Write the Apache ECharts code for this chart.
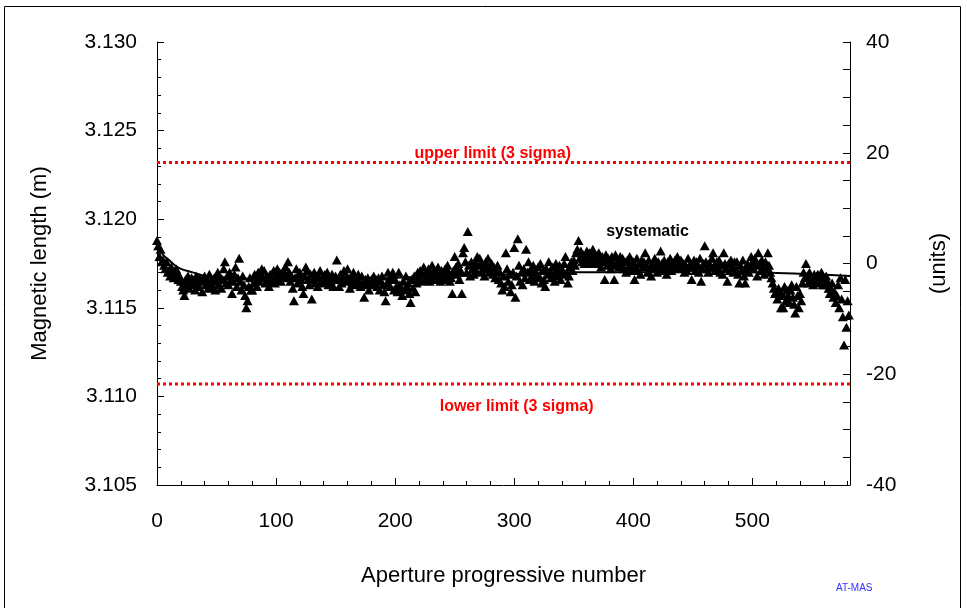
<!DOCTYPE html>
<html>
<head>
<meta charset="utf-8">
<script src="https://cdn.jsdelivr.net/npm/echarts@6/dist/echarts.min.js"></script>
<style>
  html, body { margin: 0; padding: 0; background: #fff; }
  #main { width: 967px; height: 608px; }
</style>
</head>
<body>
<div id="main"></div>
<script>
// magnetic length (m) per aperture, index = aperture progressive number
var magneticLength = [
  3.1188, 3.1185, 3.1179, 3.1183, 3.1176, 3.1177, 3.1174, 3.1172, 3.1176, 3.1170,
  3.1171, 3.1168, 3.1173, 3.1170, 3.1167, 3.1169, 3.1172, 3.1170, 3.1166, 3.1168,
  3.1165, 3.1162, 3.1160, 3.1157, 3.1166, 3.1163, 3.1168, 3.1161, 3.1164, 3.1167,
  3.1163, 3.1166, 3.1160, 3.1168, 3.1164, 3.1162, 3.1167, 3.1165, 3.1159, 3.1166,
  3.1168, 3.1163, 3.1166, 3.1161, 3.1169, 3.1164, 3.1166, 3.1162, 3.1167, 3.1160,
  3.1165, 3.1170, 3.1163, 3.1167, 3.1161, 3.1166, 3.1172, 3.1176, 3.1164, 3.1168,
  3.1163, 3.1170, 3.1166, 3.1158, 3.1165, 3.1169, 3.1173, 3.1162, 3.1167, 3.1178,
  3.1165, 3.1160, 3.1168, 3.1163, 3.1157, 3.1150, 3.1154, 3.1162, 3.1167, 3.1160,
  3.1160, 3.1164, 3.1169, 3.1166, 3.1162, 3.1170, 3.1165, 3.1168, 3.1172, 3.1167,
  3.1171, 3.1164, 3.1168, 3.1166, 3.1162, 3.1169, 3.1165, 3.1167, 3.1171, 3.1164,
  3.1168, 3.1172, 3.1166, 3.1170, 3.1165, 3.1169, 3.1171, 3.1167, 3.1173, 3.1168,
  3.1176, 3.1170, 3.1165, 3.1168, 3.1161, 3.1154, 3.1167, 3.1172, 3.1164, 3.1169,
  3.1170, 3.1166, 3.1162, 3.1158, 3.1168, 3.1173, 3.1171, 3.1166, 3.1163, 3.1169,
  3.1155, 3.1166, 3.1170, 3.1164, 3.1168, 3.1162, 3.1167, 3.1171, 3.1165, 3.1168,
  3.1164, 3.1169, 3.1166, 3.1170, 3.1163, 3.1167, 3.1165, 3.1169, 3.1162, 3.1166,
  3.1168, 3.1177, 3.1166, 3.1162, 3.1169, 3.1164, 3.1167, 3.1171, 3.1165, 3.1168,
  3.1172, 3.1166, 3.1161, 3.1168, 3.1164, 3.1170, 3.1167, 3.1163, 3.1166, 3.1169,
  3.1165, 3.1162, 3.1168, 3.1164, 3.1156, 3.1166, 3.1163, 3.1167, 3.1160, 3.1165,
  3.1166, 3.1163, 3.1168, 3.1164, 3.1166, 3.1162, 3.1167, 3.1160, 3.1165, 3.1168,
  3.1163, 3.1159, 3.1154, 3.1164, 3.1170, 3.1166, 3.1162, 3.1168, 3.1170, 3.1160,
  3.1166, 3.1162, 3.1159, 3.1170, 3.1163, 3.1161, 3.1157, 3.1165, 3.1160, 3.1168,
  3.1162, 3.1164, 3.1158, 3.1153, 3.1166, 3.1161, 3.1168, 3.1159, 3.1164, 3.1170,
  3.1167, 3.1171, 3.1165, 3.1169, 3.1173, 3.1166, 3.1170, 3.1168, 3.1172, 3.1165,
  3.1169, 3.1174, 3.1167, 3.1171, 3.1166, 3.1170, 3.1173, 3.1168, 3.1165, 3.1171,
  3.1169, 3.1166, 3.1172, 3.1168, 3.1174, 3.1170, 3.1165, 3.1167, 3.1158, 3.1171,
  3.1179, 3.1173, 3.1169, 3.1175, 3.1166, 3.1171, 3.1158, 3.1181, 3.1184, 3.1176,
  3.1170, 3.1193, 3.1174, 3.1168, 3.1176, 3.1172, 3.1169, 3.1175, 3.1171, 3.1179,
  3.1174, 3.1178, 3.1170, 3.1175, 3.1172, 3.1168, 3.1176, 3.1173, 3.1178, 3.1170,
  3.1172, 3.1175, 3.1169, 3.1173, 3.1167, 3.1171, 3.1174, 3.1166, 3.1170, 3.1164,
  3.1160, 3.1168, 3.1162, 3.1181, 3.1172, 3.1165, 3.1169, 3.1159, 3.1163, 3.1170,
  3.1184, 3.1156, 3.1168, 3.1189, 3.1174, 3.1165, 3.1170, 3.1163, 3.1172, 3.1167,
  3.1183, 3.1170, 3.1176, 3.1166, 3.1172, 3.1168, 3.1174, 3.1165, 3.1170, 3.1167,
  3.1173, 3.1168, 3.1175, 3.1164, 3.1171, 3.1166, 3.1162, 3.1172, 3.1169, 3.1176,
  3.1170, 3.1167, 3.1173, 3.1169, 3.1165, 3.1175, 3.1171, 3.1168, 3.1174, 3.1166,
  3.1172, 3.1169, 3.1175, 3.1179, 3.1170, 3.1164, 3.1168, 3.1173, 3.1176, 3.1171,
  3.1177, 3.1174, 3.1181, 3.1183, 3.1188, 3.1178, 3.1182, 3.1176, 3.1180, 3.1175,
  3.1179, 3.1182, 3.1177, 3.1181, 3.1175, 3.1179, 3.1183, 3.1176, 3.1180, 3.1178,
  3.1175, 3.1181, 3.1177, 3.1173, 3.1179, 3.1176, 3.1166, 3.1180, 3.1174, 3.1178,
  3.1176, 3.1172, 3.1179, 3.1175, 3.1166, 3.1180, 3.1174, 3.1177, 3.1173, 3.1179,
  3.1175, 3.1178, 3.1172, 3.1176, 3.1170, 3.1177, 3.1173, 3.1179, 3.1174, 3.1171,
  3.1176, 3.1166, 3.1173, 3.1178, 3.1171, 3.1175, 3.1169, 3.1177, 3.1173, 3.1176,
  3.1181, 3.1174, 3.1170, 3.1177, 3.1173, 3.1168, 3.1175, 3.1172, 3.1178, 3.1174,
  3.1170, 3.1176, 3.1173, 3.1182, 3.1175, 3.1171, 3.1177, 3.1174, 3.1169, 3.1176,
  3.1173, 3.1178, 3.1171, 3.1175, 3.1172, 3.1177, 3.1174, 3.1179, 3.1173, 3.1176,
  3.1177, 3.1172, 3.1175, 3.1170, 3.1174, 3.1171, 3.1178, 3.1173, 3.1175, 3.1166,
  3.1173, 3.1177, 3.1171, 3.1176, 3.1174, 3.1170, 3.1178, 3.1165, 3.1172, 3.1175,
  3.1185, 3.1176, 3.1172, 3.1170, 3.1175, 3.1173, 3.1178, 3.1181, 3.1174, 3.1171,
  3.1176, 3.1172, 3.1177, 3.1170, 3.1174, 3.1169, 3.1181, 3.1175, 3.1172, 3.1165,
  3.1175, 3.1171, 3.1177, 3.1173, 3.1170, 3.1176, 3.1172, 3.1176, 3.1169, 3.1164,
  3.1174, 3.1171, 3.1177, 3.1168, 3.1164, 3.1172, 3.1175, 3.1170, 3.1173, 3.1179,
  3.1176, 3.1172, 3.1178, 3.1174, 3.1168, 3.1181, 3.1175, 3.1171, 3.1177, 3.1173,
  3.1169, 3.1176, 3.1172, 3.1181, 3.1174, 3.1170, 3.1167, 3.1164, 3.1161, 3.1158,
  3.1159, 3.1155, 3.1161, 3.1157, 3.1150, 3.1158, 3.1150, 3.1162, 3.1154, 3.1160,
  3.1157, 3.1153, 3.1160, 3.1163, 3.1156, 3.1152, 3.1147, 3.1162, 3.1157, 3.1150,
  3.1158, 3.1154, 3.1164, 3.1170, 3.1167, 3.1175, 3.1168, 3.1164, 3.1170, 3.1166,
  3.1167, 3.1163, 3.1169, 3.1165, 3.1168, 3.1169, 3.1164, 3.1167, 3.1170, 3.1163,
  3.1167, 3.1163, 3.1168, 3.1165, 3.1161, 3.1158, 3.1161, 3.1164, 3.1156, 3.1159,
  3.1153, 3.1157, 3.1163, 3.1150, 3.1167, 3.1155, 3.1145, 3.1129, 3.1166, 3.1139,
  3.1154, 3.1146
];

// systematic trend (smooth curve)
var systematicX = [0, 5, 10, 15, 20, 30, 40, 60, 100, 150, 200, 250, 300, 350, 400, 450, 500, 550, 582];
var systematicY = [3.1186, 3.1180, 3.1177, 3.1174, 3.1172, 3.1170, 3.1168, 3.1167, 3.1166, 3.1166,
                   3.1167, 3.1168, 3.1169, 3.1170, 3.1170, 3.1171, 3.1170, 3.1169, 3.1168];

var upperLimit = 3.1232;
var lowerLimit = 3.1107;
var xMax = 582;

var leftTicks = [3.105, 3.110, 3.115, 3.120, 3.125, 3.130];
var rightTicks = [-40, -20, 0, 20, 40];

var chartDom = document.getElementById('main');
var myChart = echarts.init(chartDom);
var option;

var FONT = 'Liberation Sans, Arial, sans-serif';

var points = magneticLength.map(function (v, i) { return [i, v]; });
var sysData = systematicX.map(function (x, i) { return [x, systematicY[i]]; });

option = {
    animation: false,
    textStyle: { fontFamily: FONT },
    grid: { left: 157, right: 117, top: 42, bottom: 123 },
    graphic: [
        {
            type: 'rect',
            shape: { x: 4.5, y: 6.5, width: 956, height: 620 },
            style: { fill: 'none', stroke: '#000', lineWidth: 1 },
            silent: true
        },
        {
            type: 'text',
            left: 836, top: 583,
            style: { text: 'AT-MAS', fill: '#3333ff', font: '10px ' + FONT }
        }
    ],
    xAxis: {
        type: 'value',
        min: 0,
        max: xMax,
        interval: 100,
        name: 'Aperture progressive number',
        nameLocation: 'middle',
        nameGap: 80,
        nameTextStyle: { fontSize: 22, color: '#000' },
        axisLine: { onZero: false, lineStyle: { color: '#000', width: 1 } },
        axisTick: { inside: true, length: 7, lineStyle: { color: '#000' } },
        minorTick: { show: true, splitNumber: 5, length: 4, lineStyle: { color: '#000' } },
        axisLabel: { fontSize: 21, color: '#000', margin: 26, showMaxLabel: false },
        splitLine: { show: false }
    },
    yAxis: [
        {
            type: 'value',
            min: leftTicks[0],
            max: leftTicks[leftTicks.length - 1],
            interval: 0.005,
            name: 'Magnetic length (m)',
            nameLocation: 'middle',
            nameGap: 106,
            nameRotate: 90,
            nameTextStyle: { fontSize: 22, color: '#000' },
            axisLine: { show: true, onZero: false, lineStyle: { color: '#000', width: 1 } },
            axisTick: { inside: true, length: 7, lineStyle: { color: '#000' } },
            minorTick: { show: true, splitNumber: 5, length: 4, lineStyle: { color: '#000' } },
            axisLabel: {
                fontSize: 21, color: '#000', margin: 20,
                formatter: function (v) { return v.toFixed(3); }
            },
            splitLine: { show: false }
        },
        {
            type: 'value',
            position: 'right',
            min: rightTicks[0],
            max: rightTicks[rightTicks.length - 1],
            interval: 20,
            name: '(units)',
            nameLocation: 'middle',
            nameGap: 78,
            nameRotate: 90,
            nameTextStyle: { fontSize: 22, color: '#000' },
            axisLine: { show: true, onZero: false, lineStyle: { color: '#000', width: 1 } },
            axisTick: { inside: true, length: 7, lineStyle: { color: '#000' } },
            minorTick: { show: true, splitNumber: 4, length: 7, lineStyle: { color: '#000' } },
            axisLabel: { fontSize: 21, color: '#000', margin: 16 },
            splitLine: { show: false }
        }
    ],
    series: [
        {
            name: 'upper limit',
            type: 'line',
            data: [[0, upperLimit], [xMax, upperLimit]],
            symbol: 'none',
            lineStyle: { color: '#ff0000', width: 3, type: [3, 3] },
            silent: true,
            z: 1
        },
        {
            name: 'lower limit',
            type: 'line',
            data: [[0, lowerLimit], [xMax, lowerLimit]],
            symbol: 'none',
            lineStyle: { color: '#ff0000', width: 3, type: [3, 3] },
            silent: true,
            z: 1
        },
        {
            name: 'systematic',
            type: 'line',
            data: sysData,
            smooth: true,
            symbol: 'none',
            lineStyle: { color: '#000', width: 2 },
            z: 2
        },
        {
            name: 'magnetic length',
            type: 'scatter',
            data: points,
            symbol: 'triangle',
            symbolSize: [10, 9],
            itemStyle: { color: '#000', opacity: 1 },
            z: 3
        },
        {
            name: 'labels',
            type: 'scatter',
            symbolSize: 0,
            silent: true,
            z: 4,
            itemStyle: { opacity: 1 },
            data: [
                { value: [282, upperLimit], label: { show: true, formatter: 'upper limit (3 sigma)', position: 'top', distance: 1, color: '#ff0000' } },
                { value: [302, lowerLimit], label: { show: true, formatter: 'lower limit (3 sigma)', position: 'bottom', distance: 15, color: '#ff0000' } },
                { value: [412, 3.1193], label: { show: true, formatter: 'systematic', position: 'inside', color: '#000' } }
            ],
            label: { fontSize: 16, fontWeight: 'bold', fontFamily: FONT, opacity: 1 }
        }
    ]
};

option && myChart.setOption(option);
</script>
</body>
</html>
